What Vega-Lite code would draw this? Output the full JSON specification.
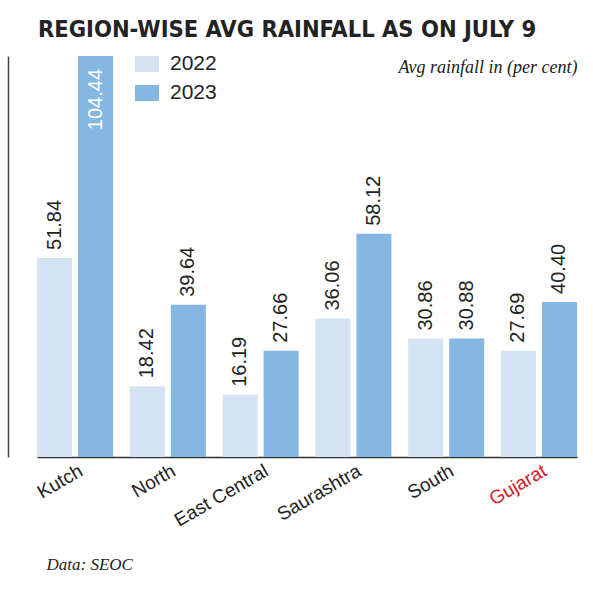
{
  "$schema": "https://vega.github.io/schema/vega-lite/v6.json",
  "autosize": {"type": "none"},
  "width": 540,
  "height": 401,
  "padding": {"left": 37, "top": 56, "right": 16, "bottom": 140},
  "background": "#ffffff",
  "title": {
    "text": "REGION-WISE AVG RAINFALL AS ON JULY 9",
    "anchor": "start",
    "frame": "group",
    "font": "Liberation Sans Narrow, Arial Narrow, DejaVu Sans Condensed, sans-serif",
    "fontSize": 23.5,
    "fontWeight": "bold",
    "color": "#222222",
    "baseline": "alphabetic",
    "offset": -8,
    "dx": 1
  },
  "data": {
    "values": [
      {"region": "Kutch", "year": "2022", "value": 51.84},
      {"region": "Kutch", "year": "2023", "value": 104.44},
      {"region": "North", "year": "2022", "value": 18.42},
      {"region": "North", "year": "2023", "value": 39.64},
      {"region": "East Central", "year": "2022", "value": 16.19},
      {"region": "East Central", "year": "2023", "value": 27.66},
      {"region": "Saurashtra", "year": "2022", "value": 36.06},
      {"region": "Saurashtra", "year": "2023", "value": 58.12},
      {"region": "South", "year": "2022", "value": 30.86},
      {"region": "South", "year": "2023", "value": 30.88},
      {"region": "Gujarat", "year": "2022", "value": 27.69},
      {"region": "Gujarat", "year": "2023", "value": 40.40}
    ]
  },
  "encoding": {
    "x": {
      "field": "region",
      "type": "nominal",
      "sort": null,
      "scale": {"paddingInner": 0.18, "paddingOuter": 0},
      "axis": {
        "domain": true,
        "domainColor": "#333333",
        "domainWidth": 1.5,
        "ticks": false,
        "tickSize": 0,
        "grid": false,
        "labelAngle": -30,
        "labelAlign": "right",
        "labelBaseline": "middle",
        "labelOffset": 6,
        "labelPadding": 12,
        "labelFont": "Liberation Sans",
        "labelFontSize": 19,
        "labelColor": {"condition": {"test": "datum.value === 'Gujarat'", "value": "#d7191f"}, "value": "#222222"},
        "title": "Data: SEOC",
        "titleFont": "Liberation Serif",
        "titleFontStyle": "italic",
        "titleFontWeight": "normal",
        "titleFontSize": 17,
        "titleColor": "#222222",
        "titleAlign": "left",
        "titleBaseline": "alphabetic",
        "titleAnchor": "start",
        "titleX": 9,
        "titleY": 112
      }
    },
    "xOffset": {
      "field": "year",
      "type": "nominal",
      "scale": {"paddingInner": 0.146, "paddingOuter": 0}
    },
    "y": {
      "field": "value",
      "type": "quantitative",
      "scale": {"domain": [0, 104.44], "nice": false, "zero": true},
      "axis": {
        "orient": "left",
        "offset": 29,
        "domain": true,
        "domainColor": "#444444",
        "domainWidth": 1.5,
        "ticks": false,
        "labels": false,
        "grid": false,
        "title": "Avg rainfall in (per cent)",
        "titleFont": "Liberation Serif",
        "titleFontStyle": "italic",
        "titleFontWeight": "normal",
        "titleFontSize": 18,
        "titleColor": "#222222",
        "titleAngle": 0,
        "titleAlign": "right",
        "titleBaseline": "alphabetic",
        "titleX": 569,
        "titleY": 16
      }
    }
  },
  "layer": [
    {
      "mark": {"type": "bar"},
      "encoding": {
        "color": {
          "field": "year",
          "type": "nominal",
          "scale": {"domain": ["2022", "2023"], "range": ["#d4e3f4", "#85b7e3"]},
          "legend": {
            "orient": "none",
            "legendX": 98,
            "legendY": -4,
            "title": null,
            "padding": 0,
            "symbolType": "M-1,-0.667H1V0.667H-1Z",
            "symbolSize": 576,
            "symbolStrokeWidth": 0,
            "labelFont": "Liberation Sans",
            "labelFontSize": 21,
            "labelColor": "#222222",
            "labelOffset": 11,
            "rowPadding": 7
          }
        }
      }
    },
    {
      "transform": [{"filter": "datum.value < 100"}],
      "mark": {"type": "text", "angle": 270, "align": "left", "baseline": "middle", "dx": 8, "font": "Liberation Sans", "fontSize": 20, "color": "#222222"},
      "encoding": {
        "text": {"field": "value", "type": "quantitative", "format": ".2f"}
      }
    },
    {
      "transform": [{"filter": "datum.value >= 100"}],
      "mark": {"type": "text", "angle": 270, "align": "right", "baseline": "middle", "dx": -13, "font": "Liberation Sans", "fontSize": 20, "color": "#ffffff"},
      "encoding": {
        "text": {"field": "value", "type": "quantitative", "format": ".2f"}
      }
    }
  ],
  "config": {
    "view": {"stroke": null}
  }
}
